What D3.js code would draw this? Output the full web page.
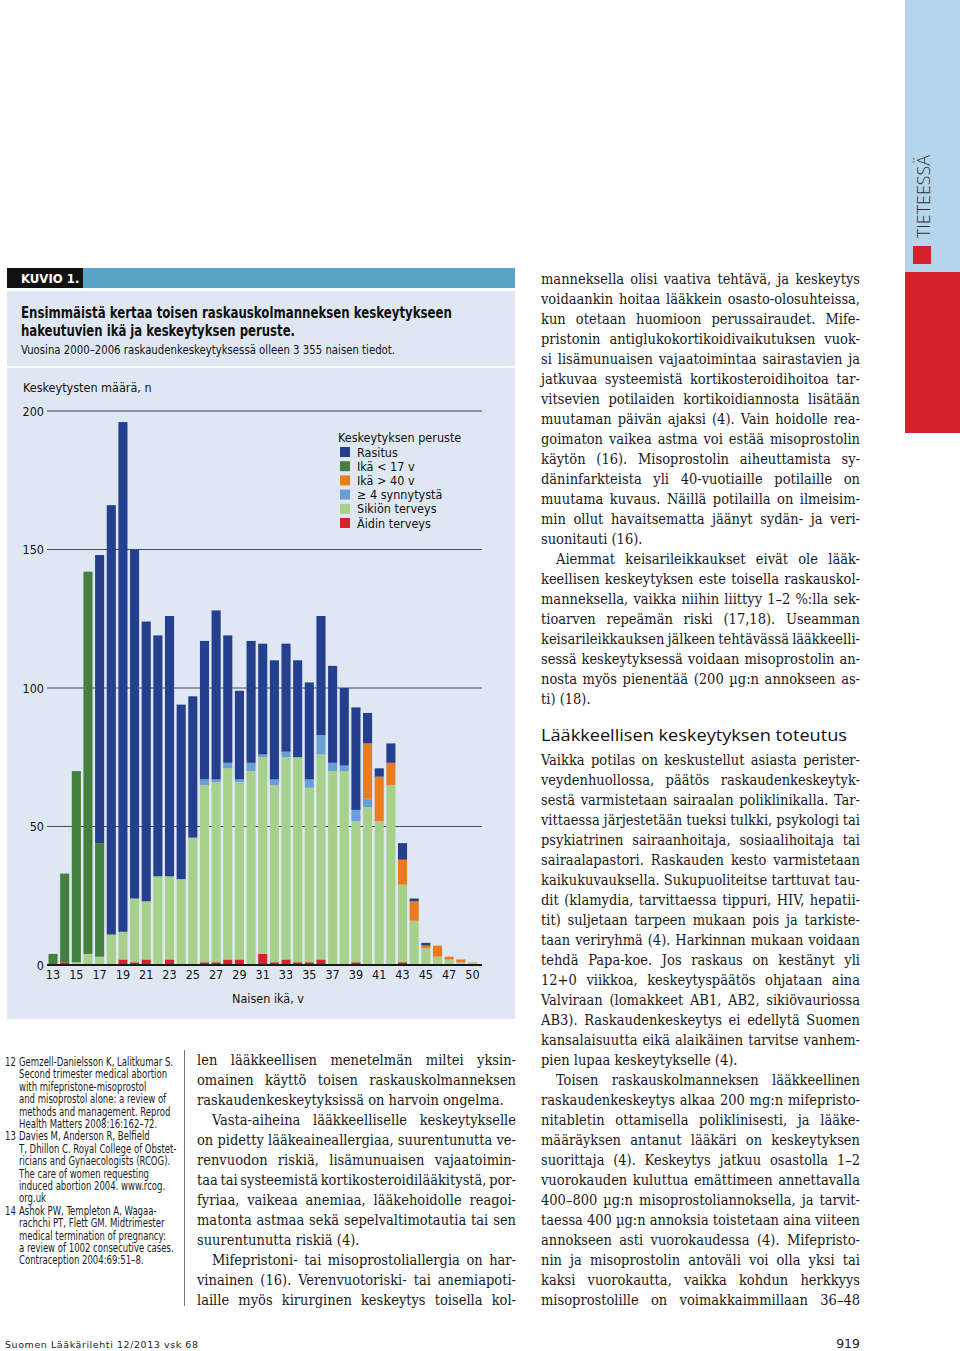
<!DOCTYPE html>
<html><head><meta charset="utf-8">
<script src="https://cdn.jsdelivr.net/npm/d3@7"></script>
<style>body{margin:0;background:#fff}svg{display:block}</style>
</head><body><svg id="page" width="960" height="1351"></svg>
<script>
// ---------- DATA ----------
const ages = ["13","14","15","16","17","18","19","20","21","22","23","24","25","26","27","28","29","30","31","32","33","34","35","36","37","38","39","40","41","42","43","44","45","46","47","48","50"];
const xTickLabels = ["13","15","17","19","21","23","25","27","29","31","33","35","37","39","41","43","45","47","50"];
const yTicks = [0, 50, 100, 150, 200];
const seriesKeys = ["aidin","sikion","synnytysta","yli40","alle17","rasitus"];
const seriesNames = {rasitus:"Rasitus", alle17:"Ikä < 17 v", yli40:"Ikä > 40 v", synnytysta:"\u2265 4 synnytystä", sikion:"Sikiön terveys", aidin:"Äidin terveys"};
const legendOrder = ["rasitus","alle17","yli40","synnytysta","sikion","aidin"];
const aidinTerveys = [0,1,0,0,0,0,2,1,2,0,2,0,0,1,1,2,2,0,4,1,2,1,1,2,0,0,1,0,0,0,1,0,0,0,0,0,0];
const sikionTerveys = [0,0,1,4,3,11,10,23,21,32,30,31,46,64,65,69,64,70,71,64,73,74,63,74,70,70,51,57,52,65,28,16,6,3,2,1,1];
const synnytysta4 = [0,0,0,0,0,0,0,0,0,0,0,0,0,2,1,2,1,3,1,2,2,0,3,7,3,2,4,3,0,0,0,0,0,0,0,0,0];
const ikaYli40 = [0,0,0,0,0,0,0,0,0,0,0,0,0,0,0,0,0,0,0,0,0,0,0,0,0,0,0,20,16,8,9,7,1,4,1,1,0];
const ikaAlle17 = [4,32,69,138,41,0,0,0,0,0,0,0,0,0,0,0,0,0,0,0,0,0,0,0,0,0,0,0,0,0,0,0,0,0,0,0,0];
const rasitus = [0,0,0,0,104,155,184,126,101,87,94,63,51,50,61,46,32,44,40,43,39,35,35,43,35,28,37,11,3,7,6,1,1,0,0,0,0];
const colors = {rasitus:"#243f8e", alle17:"#448040", yli40:"#ec7b1e", synnytysta:"#6a9fd6", sikion:"#a7d08b", aidin:"#d8222b"};

// ---------- PAGE ----------
const svg = d3.select("#page");
const COND = "'Liberation Sans Narrow','DejaVu Sans Condensed','Roboto Condensed',sans-serif";
const SERIF = "'DejaVu Serif Condensed','DejaVu Serif',serif";
svg.append("rect").attr("width",960).attr("height",1351).attr("fill","#fff");

// right strip
svg.append("rect").attr("x",905).attr("y",0).attr("width",55).attr("height",272).attr("fill","#b4d5ea");
svg.append("rect").attr("x",905).attr("y",272).attr("width",55).attr("height",161).attr("fill","#d3222a");
svg.append("rect").attr("x",913).attr("y",246).attr("width",18).attr("height",18).attr("fill","#d3222a");
svg.append("text").attr("transform","translate(930,238) rotate(-90)")
  .attr("font-family","'Open Sans','DejaVu Sans',sans-serif").attr("font-size",18).attr("font-weight",300)
  .attr("fill","#333").attr("textLength",83).attr("lengthAdjust","spacingAndGlyphs").text("TIETEESSÄ");

// figure header
svg.append("rect").attr("x",83).attr("y",268).attr("width",432).attr("height",20).attr("fill","#58a5c8");
svg.append("rect").attr("x",7).attr("y",268).attr("width",76).attr("height",20).attr("fill","#111");
svg.append("text").attr("x",21).attr("y",283).attr("font-family",COND).attr("font-weight","bold")
  .attr("font-size",13).attr("fill","#fff").text("KUVIO 1.");
svg.append("rect").attr("x",7).attr("y",291).attr("width",508).attr("height",75).attr("fill","#dfe8f2");
svg.append("rect").attr("x",7).attr("y",368).attr("width",508).attr("height",651).attr("fill","#dfe8f2");
svg.append("text").attr("x",21).attr("y",318).attr("font-family",COND).attr("font-weight","bold")
  .attr("font-size",15.5).attr("fill","#111").attr("textLength",431).attr("lengthAdjust","spacingAndGlyphs")
  .text("Ensimmäistä kertaa toisen raskauskolmanneksen keskeytykseen");
svg.append("text").attr("x",21).attr("y",336).attr("font-family",COND).attr("font-weight","bold")
  .attr("font-size",15.5).attr("fill","#111").attr("textLength",274).attr("lengthAdjust","spacingAndGlyphs")
  .text("hakeutuvien ikä ja keskeytyksen peruste.");
svg.append("text").attr("x",21).attr("y",354).attr("font-family",COND)
  .attr("font-size",12.5).attr("fill","#111").attr("textLength",374).attr("lengthAdjust","spacingAndGlyphs")
  .text("Vuosina 2000–2006 raskaudenkeskeytyksessä olleen 3 355 naisen tiedot.");

// ---------- CHART ----------
const table = ages.map((a,i)=>({age:a, aidin:aidinTerveys[i], sikion:sikionTerveys[i], synnytysta:synnytysta4[i], yli40:ikaYli40[i], alle17:ikaAlle17[i], rasitus:rasitus[i]}));
const x = d3.scaleBand().domain(ages).range([47.2, 47.2+37*11.65]).paddingInner(0.22).paddingOuter(0.11);
const y = d3.scaleLinear().domain([0,200]).range([965,411]);
const chart = svg.append("g");

chart.append("text").attr("x",23).attr("y",392).attr("font-family",COND).attr("font-size",12.5)
  .attr("fill","#111").text("Keskeytysten määrä, n");

chart.selectAll("line.grid").data(yTicks.filter(d=>d>0)).join("line").attr("class","grid")
  .attr("x1",47).attr("x2",482).attr("y1",d=>y(d)).attr("y2",d=>y(d))
  .attr("stroke",d=>d===200?"#6e7888":"#454d58").attr("stroke-width",d=>d===200?1.6:1.2);

const yAxis = chart.append("g").attr("transform","translate(44,0)")
  .call(d3.axisLeft(y).tickValues(yTicks).tickSize(0).tickPadding(0));
yAxis.select(".domain").remove();
yAxis.selectAll("text").attr("font-family",COND).attr("font-size",12.5).attr("fill","#111");

const stack = d3.stack().keys(seriesKeys)(table);
chart.selectAll("g.series").data(stack).join("g").attr("class","series")
  .attr("fill",d=>colors[d.key])
  .selectAll("rect").data(d=>d.filter(s=>s[1]>s[0])).join("rect")
  .attr("x",d=>x(d.data.age)).attr("width",x.bandwidth())
  .attr("y",d=>y(d[1])).attr("height",d=>y(d[0])-y(d[1]));

chart.append("line").attr("x1",47).attr("x2",482).attr("y1",y(0)).attr("y2",y(0))
  .attr("stroke","#1a1a1a").attr("stroke-width",2);

const xAxis = chart.append("g").attr("transform",`translate(0,${y(0)+2})`)
  .call(d3.axisBottom(x).tickValues(xTickLabels).tickSize(0).tickPadding(3));
xAxis.select(".domain").remove();
xAxis.selectAll("text").attr("font-family",COND).attr("font-size",12.5).attr("fill","#111");

chart.append("text").attr("x",268).attr("y",1003).attr("text-anchor","middle").attr("font-family",COND)
  .attr("font-size",12.5).attr("fill","#111").text("Naisen ikä, v");

// legend
const lg = chart.append("g").attr("transform","translate(338,0)");
lg.append("text").attr("x",0).attr("y",442).attr("font-family",COND).attr("font-size",12.5).attr("fill","#111").text("Keskeytyksen peruste");
const li = lg.selectAll("g.li").data(legendOrder).join("g").attr("class","li")
  .attr("transform",(d,i)=>`translate(0,${452+i*14.2})`);
li.append("rect").attr("x",2).attr("y",-5).attr("width",10).attr("height",10).attr("fill",d=>colors[d]);
li.append("text").attr("x",19).attr("y",4.5).attr("font-family",COND).attr("font-size",12.5).attr("fill","#111").text(d=>seriesNames[d]);

// ---------- BODY TEXT ----------
function column(lines, x0, y0, lh, width, size){
  const g = svg.append("g").attr("font-family",SERIF).attr("font-size",size).attr("fill","#1a1a1a");
  lines.forEach((raw,i)=>{
    let t = raw, indent = 0, last = false;
    if (t.startsWith(">")) { indent = 15; t = t.slice(1); }
    if (t.endsWith("|")) { last = true; t = t.slice(0,-1); }
    const el = g.append("text").attr("x",x0+indent).attr("y",y0+i*lh).text(t);
    const w = el.node().getComputedTextLength();
    const target = width - indent;
    if (!last) {
      const sp = (t.match(/ /g)||[]).length;
      const ws = sp>0 ? (target - w)/sp : 0;
      if (sp>0 && ws > -1.5) el.attr("word-spacing", ws);
      else el.attr("textLength", target).attr("lengthAdjust","spacingAndGlyphs");
    } else if (w > target) {
      el.attr("textLength", target).attr("lengthAdjust","spacingAndGlyphs");
    }
  });
}
const rightLines = [
"manneksella olisi vaativa tehtävä, ja keskeytys",
"voidaankin hoitaa lääkkein osasto-olosuhteissa,",
"kun otetaan huomioon perussairaudet. Mife-",
"pristonin antiglukokortikoidivaikutuksen vuok-",
"si lisämunuaisen vajaatoimintaa sairastavien ja",
"jatkuvaa systeemistä kortikosteroidihoitoa tar-",
"vitsevien potilaiden kortikoidiannosta lisätään",
"muutaman päivän ajaksi (4). Vain hoidolle rea-",
"goimaton vaikea astma voi estää misoprostolin",
"käytön (16). Misoprostolin aiheuttamista sy-",
"däninfarkteista yli 40-vuotiaille potilaille on",
"muutama kuvaus. Näillä potilailla on ilmeisim-",
"min ollut havaitsematta jäänyt sydän- ja veri-",
"suonitauti (16).|",
">Aiemmat keisarileikkaukset eivät ole lääk-",
"keellisen keskeytyksen este toisella raskauskol-",
"manneksella, vaikka niihin liittyy 1–2 %:lla sek-",
"tioarven repeämän riski (17,18). Useamman",
"keisarileikkauksen jälkeen tehtävässä lääkkeelli-",
"sessä keskeytyksessä voidaan misoprostolin an-",
"nosta myös pienentää (200 µg:n annokseen as-",
"ti) (18).|"];
column(rightLines, 541, 284, 20, 319, 14.5);

svg.append("text").attr("x",541).attr("y",741).attr("font-family","'Open Sans','DejaVu Sans',sans-serif")
  .attr("font-size",17).attr("fill","#111").attr("textLength",306).attr("lengthAdjust","spacingAndGlyphs")
  .text("Lääkkeellisen keskeytyksen toteutus");

const rightLines2 = [
"Vaikka potilas on keskustellut asiasta perister-",
"veydenhuollossa, päätös raskaudenkeskeytyk-",
"sestä varmistetaan sairaalan poliklinikalla. Tar-",
"vittaessa järjestetään tueksi tulkki, psykologi tai",
"psykiatrinen sairaanhoitaja, sosiaalihoitaja tai",
"sairaalapastori. Raskauden kesto varmistetaan",
"kaikukuvauksella. Sukupuoliteitse tarttuvat tau-",
"dit (klamydia, tarvittaessa tippuri, HIV, hepatii-",
"tit) suljetaan tarpeen mukaan pois ja tarkiste-",
"taan veriryhmä (4). Harkinnan mukaan voidaan",
"tehdä Papa-koe. Jos raskaus on kestänyt yli",
"12+0 viikkoa, keskeytyspäätös ohjataan aina",
"Valviraan (lomakkeet AB1, AB2, sikiövauriossa",
"AB3). Raskaudenkeskeytys ei edellytä Suomen",
"kansalaisuutta eikä alaikäinen tarvitse vanhem-",
"pien lupaa keskeytykselle (4).|",
">Toisen raskauskolmanneksen lääkkeellinen",
"raskaudenkeskeytys alkaa 200 mg:n mifepristo-",
"nitabletin ottamisella poliklinisesti, ja lääke-",
"määräyksen antanut lääkäri on keskeytyksen",
"suorittaja (4). Keskeytys jatkuu osastolla 1–2",
"vuorokauden kuluttua emättimeen annettavalla",
"400–800 µg:n misoprostoliannoksella, ja tarvit-",
"taessa 400 µg:n annoksia toistetaan aina viiteen",
"annokseen asti vuorokaudessa (4). Mifepristo-",
"nin ja misoprostolin antoväli voi olla yksi tai",
"kaksi vuorokautta, vaikka kohdun herkkyys",
"misoprostolille on voimakkaimmillaan 36–48"];
column(rightLines2, 541, 765, 20, 319, 14.5);

const midLines = [
"len lääkkeellisen menetelmän miltei yksin-",
"omainen käyttö toisen raskauskolmanneksen",
"raskaudenkeskeytyksissä on harvoin ongelma.|",
">Vasta-aiheina lääkkeelliselle keskeytykselle",
"on pidetty lääkeaineallergiaa, suurentunutta ve-",
"renvuodon riskiä, lisämunuaisen vajaatoimin-",
"taa tai systeemistä kortikosteroidilääkitystä, por-",
"fyriaa, vaikeaa anemiaa, lääkehoidolle reagoi-",
"matonta astmaa sekä sepelvaltimotautia tai sen",
"suurentunutta riskiä (4).|",
">Mifepristoni- tai misoprostoliallergia on har-",
"vinainen (16). Verenvuotoriski- tai anemiapoti-",
"laille myös kirurginen keskeytys toisella kol-"];
column(midLines, 197, 1065, 20, 319, 14.5);

// references
svg.append("line").attr("x1",184.5).attr("x2",184.5).attr("y1",1050).attr("y2",1306).attr("stroke","#777").attr("stroke-width",1);
const refLines = [
["12","Gemzell-Danielsson K, Lalitkumar S."],["","Second trimester medical abortion"],["","with mifepristone-misoprostol"],
["","and misoprostol alone: a review of"],["","methods and management. Reprod"],["","Health Matters 2008:16:162–72."],
["13","Davies M, Anderson R, Belfield"],["","T, Dhillon C. Royal College of Obstet-"],["","ricians and Gynaecologists (RCOG)."],
["","The care of women requesting"],["","induced abortion 2004. www.rcog."],["","org.uk"],
["14","Ashok PW, Templeton A, Wagaa-"],["","rachchi PT, Flett GM. Midtrimester"],["","medical termination of pregnancy:"],
["","a review of 1002 consecutive cases."],["","Contraception 2004:69:51–8."]];
const rg = svg.append("g").attr("font-family",COND).attr("font-size",11.8).attr("fill","#1a1a1a");
const texts = [];
refLines.forEach((r,i)=>{
  const yy = 1066 + i*12.4;
  if (r[0]) texts.push(rg.append("text").attr("x",5).attr("y",yy).text(r[0]));
  texts.push(rg.append("text").attr("x",19).attr("y",yy).text(r[1]));
});
const k = 154 / texts[1].node().getComputedTextLength();
texts.forEach(t=>{
  const w = t.node().getComputedTextLength();
  t.attr("textLength", w*k).attr("lengthAdjust","spacingAndGlyphs");
});

// footer
svg.append("text").attr("x",5).attr("y",1348).attr("font-family","'DejaVu Sans',sans-serif").attr("font-size",9.5)
  .attr("fill","#222").attr("textLength",193).attr("lengthAdjust","spacing").text("Suomen Lääkärilehti 12/2013 vsk 68");
svg.append("text").attr("x",860).attr("y",1348).attr("text-anchor","end").attr("font-family","'DejaVu Sans',sans-serif")
  .attr("font-size",12.5).attr("fill","#222").text("919");
</script></body></html>
